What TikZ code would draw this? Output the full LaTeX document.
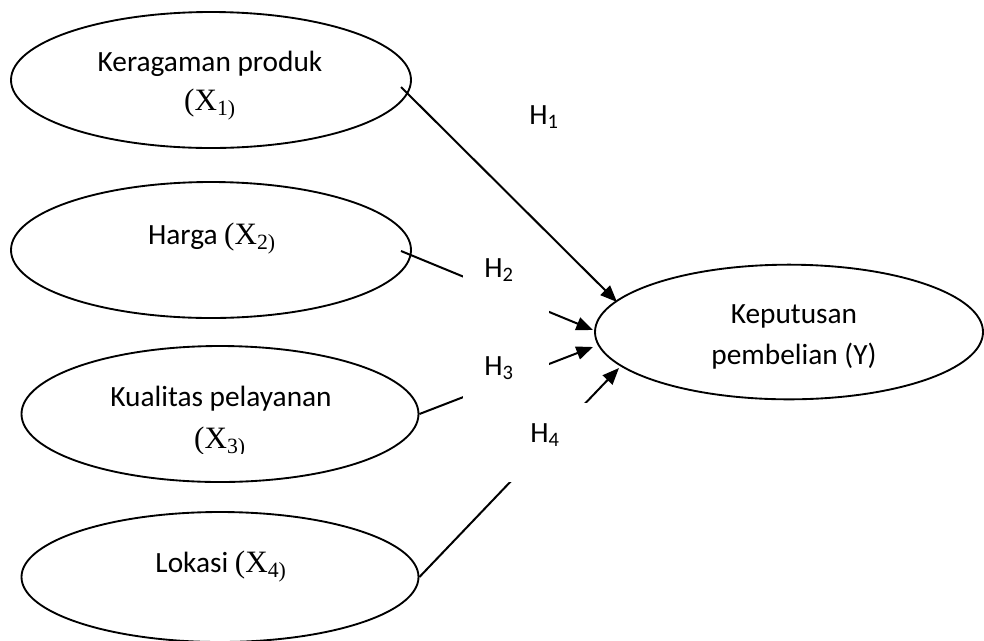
\documentclass[tikz,border=0pt]{standalone}
\usepackage{fontspec}
\setmainfont{Carlito}
\newfontfamily\tnr[Scale=1.06]{Liberation Serif}
\usetikzlibrary{arrows.meta,shapes.geometric}
\begin{document}
\begin{tikzpicture}[x=0.75pt,y=-0.75pt,
  oval/.style={draw, ellipse, line width=1.4pt, inner sep=0pt},
  txt/.style={inner sep=0pt, anchor=base, font=\fontsize{22pt}{26pt}\selectfont},
  hyp/.style={inner sep=0pt, anchor=base west, font=\fontsize{22pt}{26pt}\selectfont},
  mask/.style={fill=white, inner sep=0pt},
  link/.style={line width=1.5pt, -{Triangle[length=12.5pt,width=10pt]}}]
\useasboundingbox (0,0) rectangle (984,640);

% construct ellipses
\node[oval, minimum width=300pt, minimum height=102pt] (x1) at (211,80) {};
\node[oval, minimum width=300pt, minimum height=102pt] (x2) at (211,250) {};
\node[oval, minimum width=297.75pt, minimum height=102pt] (x3) at (220,414) {};
\node[oval, minimum width=297.75pt, minimum height=97.5pt] (x4) at (220,577) {};
\node[oval, minimum width=291pt, minimum height=101pt] (y) at (789,332) {};

% start and end points of the hypothesis paths
\coordinate (s1) at (401,87);
\coordinate (s2) at (401,251);
\coordinate (t1) at (617,302);
\coordinate (t2) at (593,330);
\coordinate (t3) at (593,347);
\coordinate (t4) at (619,368);

\draw[link] (s1) -- (t1);
\draw[link] (s2) -- (t2);
\draw[link] (x3.east) -- (t3);
\draw[link] (x4.east) -- (t4);

% white label boxes interrupting the paths
\node[mask, minimum width=64.5pt, minimum height=45pt] (m2) at (506,292) {};
\node[mask, minimum width=64.5pt, minimum height=48.75pt] (m3) at (506,377.5) {};
\node[mask, minimum width=71.25pt, minimum height=59.25pt] (m4) at (552.5,442.5) {};

% variable names
\node[txt] (l1a) at (210,71) {Keragaman produk};
\node[txt] (l1b) at (210,110) {\tnr(X\textsubscript{1)}};
\node[txt] (l2) at (212,244) {Harga {\tnr(X\textsubscript{2)}}};
\node[txt] (l3a) at (221,406) {Kualitas pelayanan};
\begin{scope}
  % the text box cuts this line off just under its baseline
  \clip (150,420) rectangle (290,453);
  \node[txt] (l3b) at (220,448) {\tnr(X\textsubscript{3)}};
\end{scope}
\node[txt] (l4) at (221,572) {Lokasi {\tnr(X\textsubscript{4)}}};
\node[txt] (lya) at (794,323) {Keputusan};
\node[txt] (lyb) at (794,364) {pembelian (Y)};

% hypothesis labels
\node[hyp] (h1) at (529,124) {H\textsubscript{1}};
\node[hyp] (h2) at (484,277) {H\textsubscript{2}};
\node[hyp] (h3) at (484,375) {H\textsubscript{3}};
\node[hyp] (h4) at (530,442) {H\textsubscript{4}};
\end{tikzpicture}
\end{document}
